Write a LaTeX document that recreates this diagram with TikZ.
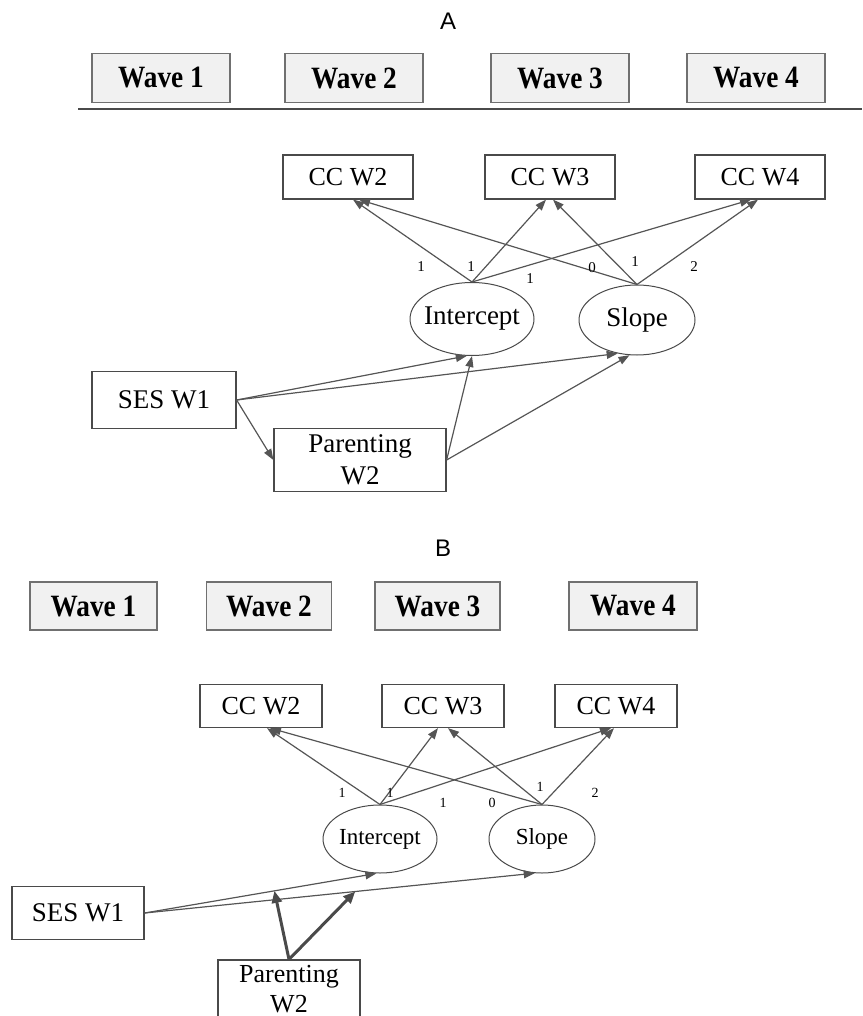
\documentclass[tikz,border=0pt]{standalone}
\usepackage{fontspec}
\setmainfont{Liberation Serif}
\newfontfamily\wavefont[FakeStretch=0.88]{Liberation Serif}
\newfontfamily\panelfont{Liberation Sans}
\usetikzlibrary{arrows.meta,shapes.geometric}
\definecolor{linegray}{HTML}{555555}
\definecolor{boxgray}{HTML}{4A4A4A}
\definecolor{waveline}{HTML}{707070}
\definecolor{wavefill}{HTML}{F1F1F1}
\begin{document}
\begin{tikzpicture}[x=1pt,y=-1pt,
	wavebox/.style={rectangle,draw=waveline,fill=wavefill,line width=1.3pt,inner sep=0pt,
		minimum height=49pt,font=\wavefont\bfseries\fontsize{31}{32}\selectfont},
	obsbox/.style={rectangle,draw=boxgray,line width=1.2pt,inner sep=0pt,align=center,
		font=\fontsize{26}{32}\selectfont},
	latent/.style={ellipse,draw=boxgray,line width=1pt,inner sep=0pt},
	effect/.style={draw=linegray,line width=1.2pt,-{Triangle[length=11pt,width=8pt]}},
	moder/.style={draw=boxgray,line width=3pt,-{Triangle[length=12pt,width=10pt]}},
	loading/.style={inner sep=0pt,font=\fontsize{15}{15}\selectfont}]
	\useasboundingbox (0,0) rectangle (862,1016);

	\node[font=\panelfont\fontsize{24}{24}\selectfont] (labA) at (448,21) {A};
	\node[wavebox,minimum width=138pt] (wA1) at (161,78) {Wave 1};
	\node[wavebox,minimum width=138pt] (wA2) at (354,78) {Wave 2};
	\node[wavebox,minimum width=138pt] (wA3) at (560,78) {Wave 3};
	\node[wavebox,minimum width=138pt] (wA4) at (756,78) {Wave 4};
	\coordinate (tlA0) at (78,109);
	\coordinate (tlA1) at (862,109);
	\draw[boxgray,line width=2.5pt] (tlA0) -- (tlA1);

	\node[obsbox,minimum width=130pt,minimum height=44pt] (ccA2) at (348,177) {CC W2};
	\node[obsbox,minimum width=130pt,minimum height=44pt] (ccA3) at (550,177) {CC W3};
	\node[obsbox,minimum width=130pt,minimum height=44pt] (ccA4) at (760,177) {CC W4};
	\node[latent,minimum width=124pt,minimum height=73pt,font=\fontsize{27}{30}\selectfont] (intA) at (472,319) {\makebox[0pt]{Intercept}};
	\node[latent,minimum width=116pt,minimum height=70pt,font=\fontsize{27}{30}\selectfont] (slpA) at (637,320) {\makebox[0pt]{Slope}};
	\node[obsbox,minimum width=144pt,minimum height=57pt,font=\fontsize{27}{32}\selectfont] (sesA) at (164,400) {SES W1};
	\node[obsbox,minimum width=172pt,minimum height=63pt,font=\fontsize{27}{32}\selectfont] (parA) at (360,460) {Parenting\\W2};

	\draw[effect] (intA.north) -- ([xshift=5pt]ccA2.south);
	\draw[effect] (intA.north) -- ([xshift=-4pt]ccA3.south);
	\draw[effect] (intA.north) -- ([xshift=-9pt]ccA4.south);
	\draw[effect] (slpA.north) -- ([xshift=11pt]ccA2.south);
	\draw[effect] (slpA.north) -- ([xshift=3pt]ccA3.south);
	\draw[effect] (slpA.north) -- ([xshift=-2pt]ccA4.south);
	\draw[effect] (sesA.east) -- (intA.262);
	\draw[effect] (sesA.east) -- (slpA.240);
	\draw[effect] (sesA.east) -- (parA.west);
	\draw[effect] (parA.east) -- (intA.south);
	\draw[effect] (parA.east) -- (slpA.258);

	\node[loading] (ldA1) at (421,267) {1};
	\node[loading] (ldA2) at (471,267) {1};
	\node[loading] (ldA3) at (530,279) {1};
	\node[loading] (ldA4) at (592,268) {0};
	\node[loading] (ldA5) at (635,262) {1};
	\node[loading] (ldA6) at (694,267) {2};

	\node[font=\panelfont\fontsize{24}{24}\selectfont] (labB) at (443,548) {B};
	\node[wavebox,minimum width=127pt,minimum height=48pt] (wB1) at (93.5,606) {Wave 1};
	\node[wavebox,minimum width=125pt,minimum height=48pt] (wB2) at (269,606) {Wave 2};
	\node[wavebox,minimum width=125pt,minimum height=48pt] (wB3) at (437.5,606) {Wave 3};
	\node[wavebox,minimum width=128pt,minimum height=48pt] (wB4) at (633,606) {Wave 4};

	\node[obsbox,minimum width=122pt,minimum height=43pt] (ccB2) at (261,706) {CC W2};
	\node[obsbox,minimum width=122pt,minimum height=43pt] (ccB3) at (443,706) {CC W3};
	\node[obsbox,minimum width=122pt,minimum height=43pt] (ccB4) at (616,706) {CC W4};
	\node[latent,minimum width=114pt,minimum height=68pt,font=\fontsize{23}{26}\selectfont] (intB) at (380,839) {\makebox[0pt]{Intercept}};
	\node[latent,minimum width=106pt,minimum height=68pt,font=\fontsize{23}{26}\selectfont] (slpB) at (542,839) {\makebox[0pt]{Slope}};
	\node[obsbox,minimum width=132pt,minimum height=53pt,font=\fontsize{27}{32}\selectfont] (sesB) at (78,913) {SES W1};
	\node[obsbox,minimum width=142pt,minimum height=58pt,font=\fontsize{26}{30}\selectfont] (parB) at (289,989) {Parenting\\W2};

	\draw[effect] (intB.north) -- ([xshift=6pt]ccB2.south);
	\draw[effect] (intB.north) -- ([xshift=-5pt]ccB3.south);
	\draw[effect] (intB.north) -- ([xshift=-5pt]ccB4.south);
	\draw[effect] (slpB.north) -- ([xshift=9pt]ccB2.south);
	\draw[effect] (slpB.north) -- ([xshift=5pt]ccB3.south);
	\draw[effect] (slpB.north) -- ([xshift=-2pt]ccB4.south);
	\draw[effect] (sesB.east) -- coordinate[pos=0.56] (modI) (intB.264);
	\draw[effect] (sesB.east) -- coordinate[pos=0.54] (modS) (slpB.258);
	\draw[moder] (parB.north) -- (modI);
	\draw[moder] (parB.north) -- (modS);

	\node[loading,font=\fontsize{14}{14}\selectfont] (ldB1) at (342,793) {1};
	\node[loading,font=\fontsize{14}{14}\selectfont] (ldB2) at (390,793) {1};
	\node[loading,font=\fontsize{14}{14}\selectfont] (ldB3) at (443,803) {1};
	\node[loading,font=\fontsize{14}{14}\selectfont] (ldB4) at (492,803) {0};
	\node[loading,font=\fontsize{14}{14}\selectfont] (ldB5) at (540,787) {1};
	\node[loading,font=\fontsize{14}{14}\selectfont] (ldB6) at (595,793) {2};
\end{tikzpicture}
\end{document}
